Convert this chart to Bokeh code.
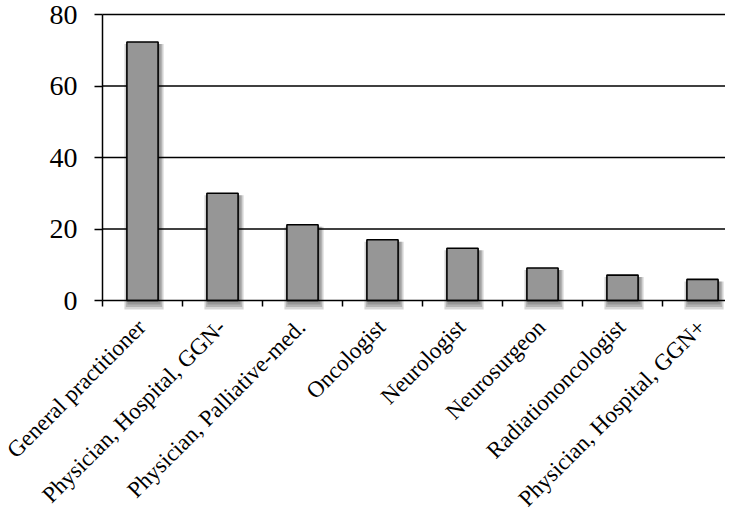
from bokeh.plotting import figure
from bokeh.models import ColumnDataSource, Range1d, FixedTicker
from bokeh.core.properties import value
from bokeh.embed import file_html
from bokeh.resources import INLINE

categories = ["General practitioner", "Physician, Hospital, GGN-", "Physician, Palliative-med.",
              "Oncologist", "Neurologist", "Neurosurgeon", "Radiationoncologist",
              "Physician, Hospital, GGN+"]
values = [72.3, 30.0, 21.2, 17.0, 14.6, 9.1, 7.1, 5.9]
y_ticks = [0, 20, 40, 60, 80]

FONT = "Liberation Serif"

# layout (pixels)
W, H = 725, 510
AX_X = 102      # y-axis position
TOP_PX = 14     # pixel row of y = 80
AX_Y = 300      # pixel row of y = 0
X_PPU = 80.0    # pixels per category
Y_MAX = 80
Y_PPU = (AX_Y - TOP_PX) / Y_MAX
LABEL_DY = 23   # label anchor below axis, px
LABEL_DX = -1   # label anchor shift, px
BAR_W = 0.39

n = len(categories)
xs = [i + 0.5 for i in range(n)]
src = ColumnDataSource(dict(x=xs, top=values, cat=categories))

p = figure(width=W, height=H, output_backend="svg", toolbar_location=None,
           x_range=Range1d(-AX_X / X_PPU, (W - AX_X) / X_PPU),
           y_range=Range1d(-(H - AX_Y) / Y_PPU, Y_MAX + TOP_PX / Y_PPU),
           min_border_left=0, min_border_right=0, min_border_top=0, min_border_bottom=0)
p.outline_line_color = None
p.background_fill_color = "white"
p.border_fill_color = "white"
p.xgrid.grid_line_color = None
p.ygrid.grid_line_color = None

# horizontal grid lines, from the y-axis to the right edge
gl = [t for t in y_ticks if t > 0]
p.segment(x0=[0] * len(gl), x1=[(W - AX_X) / X_PPU] * len(gl), y0=gl, y1=gl,
          line_color="black", line_width=1.5)

# soft drop shadow under the bars
for k in range(3):
    p.vbar(x=[x + 1.5 / X_PPU for x in xs], top=[v - 2 / Y_PPU for v in values],
           bottom=-(4 + 2.5 * k) / Y_PPU, width=BAR_W + (2 + 3 * k) / X_PPU,
           fill_color="black", fill_alpha=0.16, line_color=None)

p.vbar(x="x", top="top", bottom=0, width=BAR_W, source=src,
       fill_color="#969696", line_color="black", line_width=1.6)

# y axis
p.yaxis.fixed_location = 0
p.yaxis.bounds = (0, Y_MAX)
p.yaxis.ticker = FixedTicker(ticks=y_ticks, minor_ticks=[])
p.yaxis.major_tick_out = 8
p.yaxis.major_tick_in = 0
p.yaxis.minor_tick_out = 0
p.yaxis.minor_tick_in = 0
p.yaxis.axis_line_color = "black"
p.yaxis.axis_line_width = 1.5
p.yaxis.major_tick_line_color = "black"
p.yaxis.major_tick_line_width = 1.5
p.yaxis.major_label_text_font = FONT
p.yaxis.major_label_text_font_size = "28px"
p.yaxis.major_label_text_color = "black"
p.yaxis.major_label_standoff = 17

# x axis: boundary ticks (minor), category names drawn below as rotated text
p.xaxis.fixed_location = 0
p.xaxis.bounds = (0, n)
p.xaxis.ticker = FixedTicker(ticks=xs, minor_ticks=list(range(n + 1)))
p.xaxis.major_label_overrides = {x: "" for x in xs}
p.xaxis.major_label_text_font_size = "0px"
p.xaxis.major_label_standoff = 0
p.xaxis.major_tick_out = 0
p.xaxis.major_tick_in = 0
p.xaxis.minor_tick_out = 6
p.xaxis.minor_tick_in = 0
p.xaxis.minor_tick_line_color = "black"
p.xaxis.minor_tick_line_width = 1.5
p.xaxis.axis_line_color = "black"
p.xaxis.axis_line_width = 1.5

lab = ColumnDataSource(dict(x=[x + LABEL_DX / X_PPU for x in xs],
                            y=[-LABEL_DY / Y_PPU] * n, text=categories))
p.text(x="x", y="y", text="text", source=lab, angle=0.7854,
       text_align="right", text_baseline="middle",
       text_font=value(FONT), text_font_size=value("23px"), text_color="black")

open("out.html", "w").write(file_html(p, INLINE))
